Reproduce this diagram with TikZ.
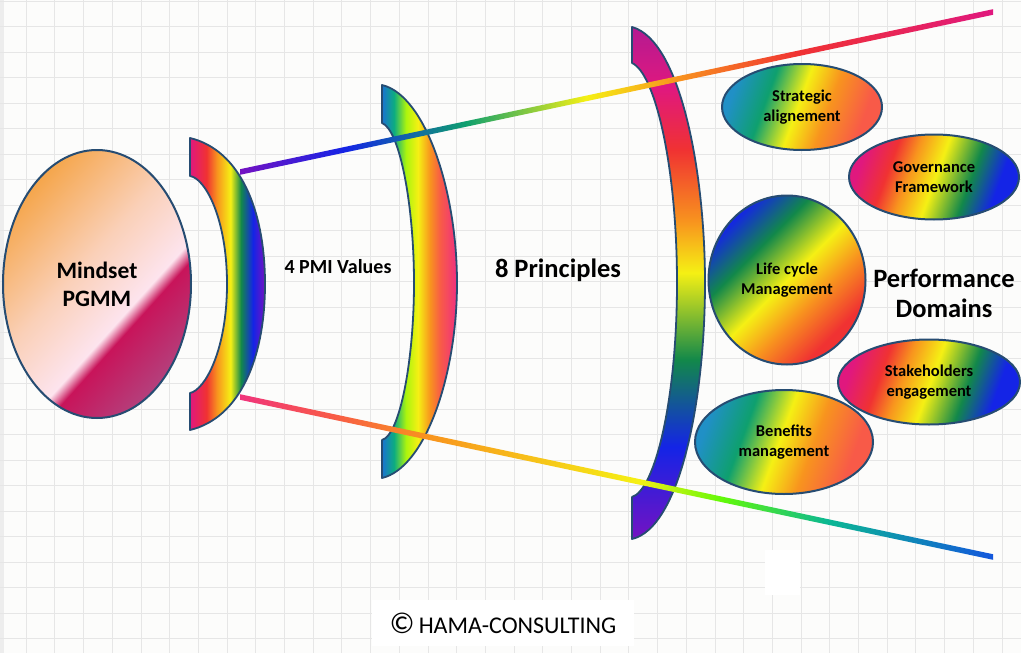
\documentclass[tikz,border=0pt]{standalone}
\usepackage{fontspec}
\setmainfont{Carlito}
\usetikzlibrary{shapes.geometric,calc}

\definecolor{rbMagenta}{HTML}{E0187E}
\definecolor{rbRed}{HTML}{F03232}
\definecolor{rbOrange}{HTML}{F8941E}
\definecolor{rbYellow}{HTML}{F5F014}
\definecolor{rbGreen}{HTML}{12884A}
\definecolor{rbBlue}{HTML}{1424E6}
\definecolor{rbPurple}{HTML}{7412C2}
\definecolor{rbTeal}{HTML}{2090C6}
\definecolor{rbCoral}{HTML}{F85A48}
\definecolor{rbPink}{HTML}{F0347C}
\definecolor{rbPlum}{HTML}{B41A92}
\definecolor{outline}{HTML}{264C72}
\definecolor{paper}{HTML}{FCFCFB}
\definecolor{gridgray}{HTML}{E6E6E6}
\definecolor{mindOrange}{HTML}{F5A64C}
\definecolor{mindPeach}{HTML}{FAD0B8}
\definecolor{mindLight}{HTML}{FDE4EE}
\definecolor{mindCrimson}{HTML}{C8145A}
\definecolor{mindPlum}{HTML}{B4407C}

% rainbow fills
\pgfdeclarehorizontalshading{mindsetFill}{100bp}{color(0bp)=(mindOrange); color(25bp)=(mindOrange); color(45bp)=(mindPeach); color(59bp)=(mindLight); color(62bp)=(mindCrimson); color(75bp)=(mindPlum); color(100bp)=(mindPlum)}
\pgfdeclarehorizontalshading{valuesLens}{100bp}{color(0bp)=(rbMagenta); color(25bp)=(rbMagenta); color(36bp)=(rbRed); color(43bp)=(rbOrange); color(52bp)=(rbYellow); color(59bp)=(rbGreen); color(67bp)=(rbBlue); color(75bp)=(rbPurple); color(100bp)=(rbPurple)}
\pgfdeclarehorizontalshading{principlesLens}{100bp}{color(0bp)=(rbTeal); color(25bp)=(rbTeal!80!blue); color(33bp)=(rbGreen!70!cyan); color(41bp)=(rbYellow!70!green); color(49bp)=(rbYellow); color(57bp)=(rbOrange); color(64bp)=(rbCoral); color(74bp)=(rbPink); color(100bp)=(rbPink)}
\pgfdeclareverticalshading{domainsLens}{100bp}{color(0bp)=(rbPurple); color(25bp)=(rbPurple); color(34bp)=(rbBlue); color(42.5bp)=(rbGreen); color(51bp)=(rbYellow); color(56bp)=(rbOrange); color(63bp)=(rbRed); color(69bp)=(rbMagenta); color(75bp)=(rbPlum); color(100bp)=(rbPlum)}
\pgfdeclarehorizontalshading{topRay}{100bp}{color(0bp)=(rbPurple); color(25bp)=(rbPurple); color(32bp)=(rbBlue); color(40bp)=(rbGreen!80!cyan); color(48bp)=(rbYellow); color(54bp)=(rbOrange); color(62bp)=(rbRed); color(75bp)=(rbMagenta); color(100bp)=(rbMagenta)}
\pgfdeclarehorizontalshading{bottomRay}{100bp}{color(0bp)=(rbPink); color(25bp)=(rbPink); color(31bp)=(rbCoral); color(37.5bp)=(rbOrange); color(51.5bp)=(rbYellow); color(57bp)=(rbYellow!40!green); color(64bp)=(rbGreen!60!cyan); color(75bp)=(rbTeal!60!blue); color(100bp)=(rbTeal!60!blue)}
\pgfdeclarehorizontalshading{coolWarm}{100bp}{color(0bp)=(rbTeal); color(25bp)=(rbTeal); color(37bp)=(rbGreen!80!cyan); color(48.5bp)=(rbYellow); color(59bp)=(rbOrange); color(72bp)=(rbCoral); color(100bp)=(rbCoral)}
\pgfdeclarehorizontalshading{warmCool}{100bp}{color(0bp)=(rbMagenta); color(25bp)=(rbMagenta); color(34.5bp)=(rbRed); color(41.5bp)=(rbOrange); color(50.5bp)=(rbYellow); color(62bp)=(rbGreen); color(71.5bp)=(rbBlue); color(100bp)=(rbBlue)}
\pgfdeclarehorizontalshading{lifeCycle}{100bp}{color(0bp)=(rbBlue); color(25bp)=(rbBlue); color(37bp)=(rbGreen); color(50bp)=(rbYellow); color(60bp)=(rbOrange); color(72bp)=(rbRed); color(100bp)=(rbRed)}

\begin{document}
\begin{tikzpicture}[x=1pt,y=-1pt,
	gridline/.style={draw=gridgray,line width=1pt},
	lens/.style={draw=outline,line width=1.8pt,line join=round},
	domainBubble/.style={ellipse,draw=outline,line width=2pt,align=center,inner sep=0pt,
		font=\bfseries\fontsize{16.5}{20}\selectfont},
	textBlock/.style={align=center,inner sep=0pt}]
\useasboundingbox (0,0) rectangle (1021,653);
\fill[paper] (0,0) rectangle (1021,653);
\fill[gridgray!70] (0,0) rectangle (4,653);
\foreach \gx in {1,...,35}
	\draw[gridline] ({-2.5+28.7*\gx},0) -- ({-2.5+28.7*\gx},653);
\foreach \gy in {0,...,25}
	\draw[gridline] (0,{1+25.5*\gy}) -- (1021,{1+25.5*\gy});
\fill[white] (765,550) rectangle (800,595);

% mindset
\node[ellipse,draw=outline,line width=2pt,minimum width=188,minimum height=268,
	shading=mindsetFill,shading angle=-42] (mindset) at (97,284) {};
\node[textBlock,font=\bfseries\fontsize{23.5}{28}\selectfont] at (mindset) {Mindset\\PGMM};

% lenses
\path[lens,shading=principlesLens] (382,85) .. controls (425,95) and (457,190) .. (457,283)
	.. controls (457,376) and (425,468) .. (382,478) -- (382,440)
	.. controls (400,435) and (414,360) .. (414,283)
	.. controls (414,206) and (400,130) .. (382,123) -- cycle;
\path[lens,shading=domainsLens] (632,27) .. controls (680,40) and (705,170) .. (705,283)
	.. controls (705,400) and (680,528) .. (632,539) -- (632,497)
	.. controls (655,490) and (677,400) .. (677,283)
	.. controls (677,166) and (655,73) .. (632,63) -- cycle;

% rays
\coordinate (topStart) at (240,172);
\coordinate (topEnd) at (993,12);
\coordinate (botStart) at (240,397);
\coordinate (botEnd) at (993,557);
\shade[shading=topRay] ($(topStart)+(0,-2.8)$) -- ($(topEnd)+(0,-2.8)$)
	-- ($(topEnd)+(0,2.8)$) -- ($(topStart)+(0,2.8)$) -- cycle;
\shade[shading=bottomRay] ($(botStart)+(0,-2.8)$) -- ($(botEnd)+(0,-2.8)$)
	-- ($(botEnd)+(0,2.8)$) -- ($(botStart)+(0,2.8)$) -- cycle;

\path[lens,shading=valuesLens] (190,138) .. controls (240,150) and (265,210) .. (265,284)
	.. controls (265,358) and (240,418) .. (190,430) -- (190,393)
	.. controls (205,390) and (227,350) .. (227,284)
	.. controls (227,218) and (205,178) .. (190,176) -- cycle;

% performance domains
\node[domainBubble,minimum width=160,minimum height=86,shading=coolWarm,shading angle=-20] (strategic) at (802,107) {Strategic\\alignement};
\node[domainBubble,minimum width=170,minimum height=85,shading=warmCool,shading angle=-20] (governance) at (934,177) {Governance\\Framework};
\node[domainBubble,minimum width=157,minimum height=169,shading=lifeCycle,shading angle=-45] (lifecycle) at (787,280) {Life cycle\\Management};
\node[domainBubble,minimum width=182,minimum height=85,shading=warmCool,shading angle=-20] (stakeholders) at (929,382) {Stakeholders\\engagement};
\node[domainBubble,minimum width=178,minimum height=104,shading=coolWarm,shading angle=-20] (benefits) at (784,442) {Benefits\\management};

% captions
\node[textBlock,font=\bfseries\fontsize{20}{24}\selectfont] (values) at (338,267) {4 PMI Values};
\node[textBlock,font=\bfseries\fontsize{26.5}{30}\selectfont] (principles) at (558,270) {8 Principles};
\node[textBlock,font=\bfseries\fontsize{26.5}{30}\selectfont] (performance) at (944,293) {Performance\\Domains};
\node[fill=white,minimum width=262,minimum height=46,font=\fontsize{24}{26}\selectfont] (copyright) at (503,623)
	{{\fontsize{30}{30}\selectfont\textcopyright}\,HAMA-CONSULTING};
\end{tikzpicture}
\end{document}
